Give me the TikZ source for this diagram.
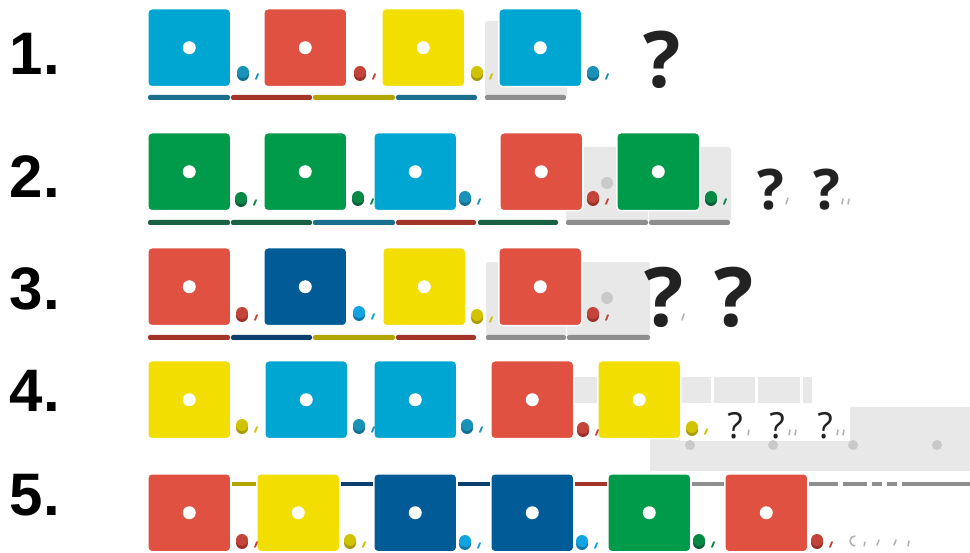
\documentclass[tikz,border=0pt]{standalone}
\usepackage{fontspec}
\setmainfont{Liberation Sans}
\newfontfamily\qfont{Open Sans}
\definecolor{cCyan}{HTML}{00A6D2}
\definecolor{cRed}{HTML}{E05141}
\definecolor{cYel}{HTML}{F2DE00}
\definecolor{cGrn}{HTML}{009A4B}
\definecolor{cNavy}{HTML}{005B97}
\definecolor{dCyan}{HTML}{1A92B8}\definecolor{dCyans}{HTML}{10708F}
\definecolor{dRed}{HTML}{C4443A}\definecolor{dReds}{HTML}{9A3028}
\definecolor{dYel}{HTML}{D2C300}\definecolor{dYels}{HTML}{A89A00}
\definecolor{dGrn}{HTML}{078A45}\definecolor{dGrns}{HTML}{05603A}
\definecolor{dNavy}{HTML}{12A4E0}\definecolor{dNavys}{HTML}{0A7AB0}
\definecolor{dGray}{HTML}{C9C9C9}\definecolor{dGrays}{HTML}{B5B5B5}
\definecolor{bCyan}{HTML}{1C6F8C}
\definecolor{bRed}{HTML}{A3342A}
\definecolor{bYel}{HTML}{B3A500}
\definecolor{bGrn}{HTML}{1A6042}
\definecolor{bNavy}{HTML}{0D3F6E}
\definecolor{bGray}{HTML}{8E8E8E}
\definecolor{pGray}{HTML}{E8E8E8}
\definecolor{tickGray}{HTML}{B0B0B0}
\definecolor{qInk}{HTML}{222222}
\tikzset{
  tilebox/.style={rectangle, rounded corners=4pt, minimum width=83pt, minimum height=78pt,
    inner sep=0pt, draw=white, line width=1.5pt, anchor=north west},
  numlbl/.style={inner sep=0pt, font=\bfseries\fontsize{60}{60}\selectfont, text=black},
  qmark/.style={inner sep=0pt, text=qInk},
  linkline/.style={line width=4pt},
  placeholder/.style={fill=pGray, rounded corners=3pt},
  faint/.style={draw=tickGray, line width=1.5pt, line cap=round}
}
\newcommand\cbtile[4]{%
  \node[tilebox, fill=#4] (#1) at (#2,#3) {};
  \fill[white] (#1.center) circle (6.5pt);
}
\newcommand\cbdot[3]{%
  \fill[#3s] (#1,#2+3) circle (6pt);
  \fill[#3] (#1,#2) circle (6pt);
  \draw[#3, line width=1.8pt, line cap=round] (#1+15,#2+2) -- (#1+13,#2+7);
}
\newcommand\cbbar[4]{%
  \fill[#4, rounded corners=2pt] (#1,#3) rectangle (#2,#3+5);
}
\begin{document}
\begin{tikzpicture}[x=1pt,y=-1pt]
\useasboundingbox[fill=white] (0,0) rectangle (970,553);
% numbers
\node[numlbl] (n1) at (35,54) {1.};
\node[numlbl] (n2) at (35,177) {2.};
\node[numlbl] (n3) at (35,289) {3.};
\node[numlbl] (n4) at (35,391) {4.};
\node[numlbl] (n5) at (35,495) {5.};
% ---------- row 1
\fill[placeholder] (485,21) rectangle (567,97);
\cbtile{t11}{147}{8}{cCyan}
\cbtile{t12}{263}{8}{cRed}
\cbtile{t13}{381}{8}{cYel}
\cbtile{t14}{498}{8}{cCyan}
\cbdot{243}{72}{dCyan}
\cbdot{360}{72}{dRed}
\cbdot{477}{72}{dYel}
\cbdot{593}{72}{dCyan}
\cbbar{148}{230}{95}{bCyan}
\cbbar{231}{312}{95}{bRed}
\cbbar{313}{395}{95}{bYel}
\cbbar{396}{477}{95}{bCyan}
\cbbar{485}{566}{95}{bGray}
\node[qmark, font=\qfont\bfseries\fontsize{78}{78}\selectfont] (q1) at (662,60) {?};
% ---------- row 2
\fill[placeholder] (566,147) rectangle (648,222);
\fill[placeholder] (649,147) rectangle (731,222);
\fill[dGray] (607,183) circle (6pt);
\cbtile{t21}{147}{132}{cGrn}
\cbtile{t22}{263}{132}{cGrn}
\cbtile{t23}{373}{132}{cCyan}
\cbtile{t24}{499}{132}{cRed}
\cbtile{t25}{616}{132}{cGrn}
\cbdot{241}{198}{dGrn}
\cbdot{358}{197}{dGrn}
\cbdot{465}{197}{dCyan}
\cbdot{593}{197}{dRed}
\cbdot{711}{197}{dGrn}
\cbbar{148}{230}{220}{bGrn}
\cbbar{231}{312}{220}{bGrn}
\cbbar{313}{395}{220}{bCyan}
\cbbar{396}{476}{220}{bRed}
\cbbar{478}{558}{220}{bGrn}
\cbbar{566}{648}{220}{bGray}
\cbbar{649}{730}{220}{bGray}
\node[qmark, font=\qfont\bfseries\fontsize{56}{56}\selectfont] (q21) at (771,190) {?};
\node[qmark, font=\qfont\bfseries\fontsize{56}{56}\selectfont] (q22) at (827,190) {?};
\draw[faint] (788,198) -- (786,204);
\draw[faint] (843,199) -- (842,204);
\draw[faint] (849,199) -- (848,204);
% ---------- row 3
\fill[placeholder] (486,262) rectangle (566,337);
\fill[placeholder] (567,262) rectangle (650,337);
\fill[dGray] (607,298) circle (6pt);
\cbtile{t31}{147}{247}{cRed}
\cbtile{t32}{263}{247}{cNavy}
\cbtile{t33}{382}{247}{cYel}
\cbtile{t34}{498}{247}{cRed}
\cbdot{242}{313}{dRed}
\cbdot{359}{312}{dNavy}
\cbdot{477}{315}{dYel}
\cbdot{593}{313}{dRed}
\cbbar{148}{230}{335}{bRed}
\cbbar{231}{312}{335}{bNavy}
\cbbar{313}{395}{335}{bYel}
\cbbar{396}{476}{335}{bRed}
\cbbar{486}{566}{335}{bGray}
\cbbar{567}{650}{335}{bGray}
\node[qmark, font=\qfont\bfseries\fontsize{82}{82}\selectfont] (q31) at (664,297) {?};
\node[qmark, font=\qfont\bfseries\fontsize{82}{82}\selectfont] (q32) at (734,297) {?};
\draw[faint] (684,314) -- (682,320);
% ---------- row 4
\fill[pGray] (650,407) rectangle (970,471);
\fill[pGray] (573,377) rectangle (711,403);
\fill[pGray] (714,377) rectangle (755,403);
\fill[pGray] (758,377) rectangle (800,403);
\fill[pGray] (803,377) rectangle (812,403);
\fill[white] (680,405) rectangle (850,441);
\foreach \gx in {690,773,853,937} \fill[dGray] (\gx,445) circle (5pt);
\cbtile{t41}{147}{360}{cYel}
\cbtile{t42}{264}{360}{cCyan}
\cbtile{t43}{373}{360}{cCyan}
\cbtile{t44}{490}{360}{cRed}
\cbtile{t45}{597}{360}{cYel}
\cbdot{242}{425}{dYel}
\cbdot{359}{425}{dCyan}
\cbdot{467}{425}{dCyan}
\cbdot{583}{428}{dRed}
\cbdot{692}{427}{dYel}
\node[qmark, font=\qfont\fontsize{36}{36}\selectfont] (q41) at (735,426) {?};
\node[qmark, font=\qfont\fontsize{36}{36}\selectfont] (q42) at (777,426) {?};
\node[qmark, font=\qfont\fontsize{36}{36}\selectfont] (q43) at (825,426) {?};
\draw[faint] (749,430) -- (748,435);
\draw[faint] (790,430) -- (789,435);
\draw[faint] (796,430) -- (795,435);
\draw[faint] (838,430) -- (837,435);
\draw[faint] (844,430) -- (843,435);
% ---------- row 5
\cbtile{t51}{147}{473}{cRed}
\cbtile{t52}{256}{473}{cYel}
\cbtile{t53}{373}{473}{cNavy}
\cbtile{t54}{490}{473}{cNavy}
\cbtile{t55}{607}{473}{cGrn}
\cbtile{t56}{724}{473}{cRed}
\coordinate (e5) at (970,484);
\draw[linkline, bYel] ([yshift=-11pt]t51.north east) -- ([yshift=-11pt]t52.north west);
\draw[linkline, bNavy] ([yshift=-11pt]t52.north east) -- ([yshift=-11pt]t53.north west);
\draw[linkline, bNavy] ([yshift=-11pt]t53.north east) -- ([yshift=-11pt]t54.north west);
\draw[linkline, bRed] ([yshift=-11pt]t54.north east) -- ([yshift=-11pt]t55.north west);
\draw[linkline, bGray] ([yshift=-11pt]t55.north east) -- ([yshift=-11pt]t56.north west);
\draw[linkline, bGray] ([yshift=-11pt]t56.north east) -- (e5);
\foreach \wx in {838,867,882,897} \fill[white] (\wx,480) rectangle (\wx+5,488);
\cbdot{242}{540}{dRed}
\cbdot{350}{540}{dYel}
\cbdot{465}{541}{dNavy}
\cbdot{582}{541}{dNavy}
\cbdot{699}{540}{dGrn}
\cbdot{817}{540}{dRed}
\draw[faint] (855,536) arc[start angle=90, end angle=270, radius=5pt];
\draw[faint] (865,542) -- (864,546);
\draw[faint] (879,540) -- (877,545);
\draw[faint] (896,540) -- (894,545);
\draw[faint] (909,541) -- (908,546);
\end{tikzpicture}
\end{document}
